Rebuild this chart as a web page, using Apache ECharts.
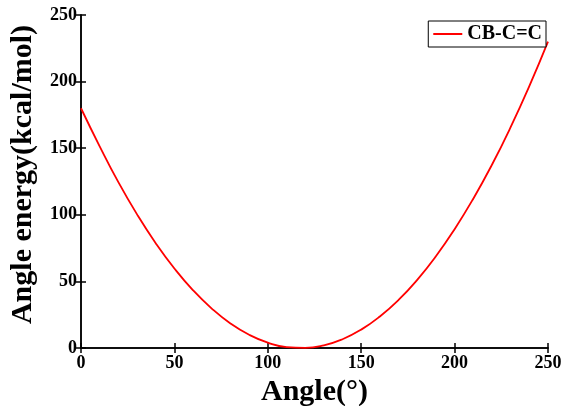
<!DOCTYPE html>
<html><head><meta charset="utf-8">
<script src="https://cdn.jsdelivr.net/npm/echarts@6/dist/echarts.min.js"></script>
<style>html,body{margin:0;padding:0;background:#fff}#c{width:566px;height:406px}</style>
</head><body><div id="c"></div>
<script>
var angles = [0,10,20,30,40,50,60,70,80,90,100,110,120,130,140,150,160,170,180,190,200,210,220,230,240,250];
var energies = [180,151.4,124.5,100.3,78.7,59.7,43.3,29.6,18.4,9.9,4.0,0.7,0.1,2.0,6.6,13.8,23.7,36.1,51.2,68.9,89.2,112.1,137.6,165.8,196.6,230];
var xTicks = [0,50,100,150,200,250];
var yTicks = [0,50,100,150,200,250];
var seriesName = 'CB-C=C';

var font = 'Liberation Serif';
var data = angles.map(function(a,i){return [a, energies[i]];});
var chart = echarts.init(document.getElementById('c'));
var axisLine = {show:true, lineStyle:{color:'#000', width:1.5}};
var tick = {show:true, inside:true, length:5, lineStyle:{color:'#000', width:1.5}};
chart.setOption({
  animation:false,
  backgroundColor:'#fff',
  grid:{left:81, top:15, right:18, bottom:58, containLabel:false, outerBoundsMode:'none'},
  legend:{
    data:[seriesName], right:20, top:21, itemWidth:29, itemHeight:2,
    borderColor:'#000', borderWidth:1, backgroundColor:'#fff', padding:[3,4,3,5], itemGap:4,
    textStyle:{fontFamily:font, fontWeight:'bold', fontSize:20, color:'#000'},
    icon:'rect'
  },
  xAxis:[{
    type:'value', min:0, max:250, interval:50, position:'bottom',
    name:'Angle(°)', nameLocation:'middle', nameGap:26,
    nameTextStyle:{fontFamily:font, fontWeight:'bold', fontSize:30, color:'#000'},
    axisLine:axisLine, axisTick:tick, splitLine:{show:false},
    axisLabel:{fontFamily:font, fontWeight:'bold', fontSize:18, color:'#000', margin:6,
      formatter:function(v){return xTicks.indexOf(v)>=0?String(v):'';}}
  },{
    type:'value', min:0, max:250, interval:50, position:'top',
    axisLine:axisLine, axisTick:tick, splitLine:{show:false}, axisLabel:{show:false}
  }],
  yAxis:[{
    type:'value', min:0, max:250, interval:50, position:'left',
    name:'Angle energy(kcal/mol)', nameLocation:'middle', nameGap:43,
    nameTextStyle:{fontFamily:font, fontWeight:'bold', fontSize:30, color:'#000', padding:[0,0,0,14]},
    axisLine:axisLine, axisTick:tick, splitLine:{show:false},
    axisLabel:{fontFamily:font, fontWeight:'bold', fontSize:18, color:'#000', margin:4,
      formatter:function(v){return yTicks.indexOf(v)>=0?String(v):'';}}
  },{
    type:'value', min:0, max:250, interval:50, position:'right',
    axisLine:axisLine, axisTick:tick, splitLine:{show:false}, axisLabel:{show:false}
  }],
  series:[{
    name:seriesName, type:'line', data:data, smooth:true, showSymbol:false,
    lineStyle:{color:'#ff0000', width:1.8}, itemStyle:{color:'#ff0000'}
  }]
});
</script></body></html>
